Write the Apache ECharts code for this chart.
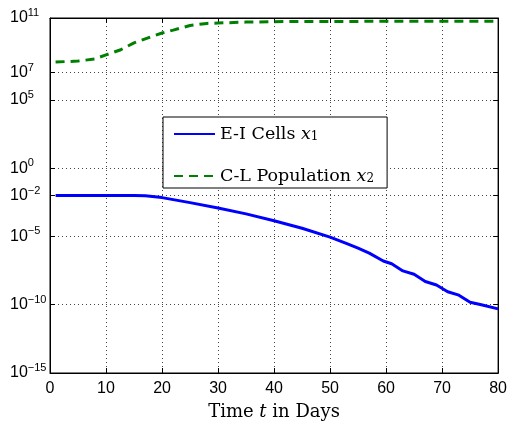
<!DOCTYPE html>
<html><head><meta charset="utf-8">
<script src="https://cdn.jsdelivr.net/npm/echarts@6/dist/echarts.min.js"></script>
<style>html,body{margin:0;padding:0;background:#fff}#c{width:510px;height:427px}</style>
</head><body><div id="c"></div>
<script>
// Time (days)
var tEI = [1, 5, 10, 15, 17, 20, 22, 25, 30, 35, 40, 45, 50, 53, 55, 57, 59.5, 61, 63, 65, 67, 69, 71, 73, 75, 77, 80];
// E-I cells x1
var eiCells = [1e-2, 1e-2, 1e-2, 1e-2, 9.5e-3, 7e-3, 5e-3, 3e-3, 1.2e-3, 4.5e-4, 1.4e-4, 4e-5, 9e-6, 3e-6, 1.4e-6, 6e-7, 1.6e-7, 1e-7, 3e-8, 1.7e-8, 5e-9, 2.8e-9, 9e-10, 5e-10, 1.5e-10, 1e-10, 5e-11];
var tCL = [1, 5, 8, 10, 12.5, 15, 18, 20, 22, 25, 28, 30, 35, 40, 50, 60, 70, 80];
// C-L population x2
var clPop = [6e7, 7e7, 1e8, 2e8, 4.5e8, 1.5e9, 4.2e9, 8e9, 1.3e10, 2.8e10, 4e10, 4.3e10, 5e10, 5.4e10, 5.6e10, 5.7e10, 5.8e10, 5.8e10];
// y tick values (labelled 10^n)
var yTicks = [1e-15, 1e-10, 1e-5, 1e-2, 1, 1e5, 1e7, 1e11];
var xTicks = [0, 10, 20, 30, 40, 50, 60, 70, 80];

var chart = echarts.init(document.getElementById('c'), null, {renderer: 'canvas'});
function pair(xs, ys) { return xs.map(function (x, i) { return [x, ys[i]]; }); }
function expOf(v) { return Math.round(Math.log10(v)); }
var sansFont = 'Liberation Sans';
var serifFont = 'DejaVu Serif';
var yLabel = {
  show: true, color: '#000', margin: 40, align: 'left',
  customValues: yTicks,
  formatter: function (v) { return '{b|10}{s|' + String(expOf(v)).replace('-', '\u2212') + '}'; },
  rich: {
    b: {fontSize: 16, fontFamily: sansFont, color: '#000'},
    s: {fontSize: 11, fontFamily: sansFont, color: '#000', verticalAlign: 'bottom', padding: [0, 0, 10, 0]}
  }
};
var gridLine = {show: true, lineStyle: {color: '#444', type: [1, 3], width: 1}};
var option = {
  animation: false,
  backgroundColor: '#fff',
  grid: {left: 50, right: 9, top: 18, bottom: 54, show: true, borderColor: '#000', borderWidth: 1, backgroundColor: 'transparent'},
  legend: {
    show: true, orient: 'vertical', left: 163, top: 117,
    padding: [8, 13, 3, 10], itemGap: 24, itemWidth: 41, itemHeight: 14,
    borderColor: '#000', borderWidth: 1, backgroundColor: '#fff',
    itemStyle: {opacity: 0},
    formatter: function (name) {
      return name === 'E-I Cells x1' ? 'E-I Cells {i|x}{sub|1}' : 'C-L Population {i|x}{sub|2}';
    },
    textStyle: {
      fontFamily: serifFont, fontSize: 17.5, color: '#000',
      rich: {
        i: {fontFamily: serifFont, fontStyle: 'italic', fontSize: 17.5, color: '#000'},
        sub: {fontFamily: serifFont, fontSize: 12, color: '#000', verticalAlign: 'top', padding: [6, 0, 0, 0]}
      }
    }
  },
  xAxis: [{
    type: 'value', min: 0, max: 80, interval: 10,
    name: 'Time {i|t} in Days', nameLocation: 'middle', nameGap: 30,
    nameTextStyle: {fontFamily: serifFont, fontSize: 18, color: '#000',
      rich: {i: {fontFamily: serifFont, fontStyle: 'italic', fontSize: 18, color: '#000'}}},
    axisLine: {show: true, onZero: false, lineStyle: {color: '#000', width: 1}},
    axisTick: {show: true, inside: true, length: 5, lineStyle: {color: '#000'}},
    axisLabel: {color: '#000', fontFamily: sansFont, fontSize: 16, margin: 8},
    splitLine: gridLine
  }, {
    type: 'value', min: 0, max: 80, interval: 10, position: 'top',
    axisLine: {show: true, onZero: false, lineStyle: {color: '#000'}},
    axisTick: {show: true, inside: true, length: 5, lineStyle: {color: '#000'}},
    axisLabel: {show: false}, splitLine: {show: false}
  }],
  yAxis: [{
    type: 'log', logBase: 10, min: 1e-15, max: 1e11,
    axisLine: {show: true, onZero: false, lineStyle: {color: '#000', width: 1}},
    axisTick: {show: true, inside: true, length: 5, customValues: yTicks, lineStyle: {color: '#000'}},
    axisLabel: yLabel,
    splitLine: gridLine
  }, {
    type: 'log', logBase: 10, min: 1e-15, max: 1e11, position: 'right',
    axisLine: {show: true, onZero: false, lineStyle: {color: '#000'}},
    axisTick: {show: true, inside: true, length: 5, customValues: yTicks, lineStyle: {color: '#000'}},
    axisLabel: {show: false, customValues: yTicks}, splitLine: {show: false}
  }],
  series: [{
    name: 'E-I Cells x1', type: 'line', showSymbol: false, symbol: 'none',
    data: pair(tEI, eiCells),
    lineStyle: {color: '#0000ff', width: 3}, itemStyle: {color: '#0000ff'}, z: 3
  }, {
    name: 'C-L Population x2', type: 'line', showSymbol: false, symbol: 'none',
    data: pair(tCL, clPop),
    lineStyle: {color: '#008000', width: 3, type: [9, 6]}, itemStyle: {color: '#008000'}, z: 3
  }]
};
chart.setOption(option);
</script></body></html>
